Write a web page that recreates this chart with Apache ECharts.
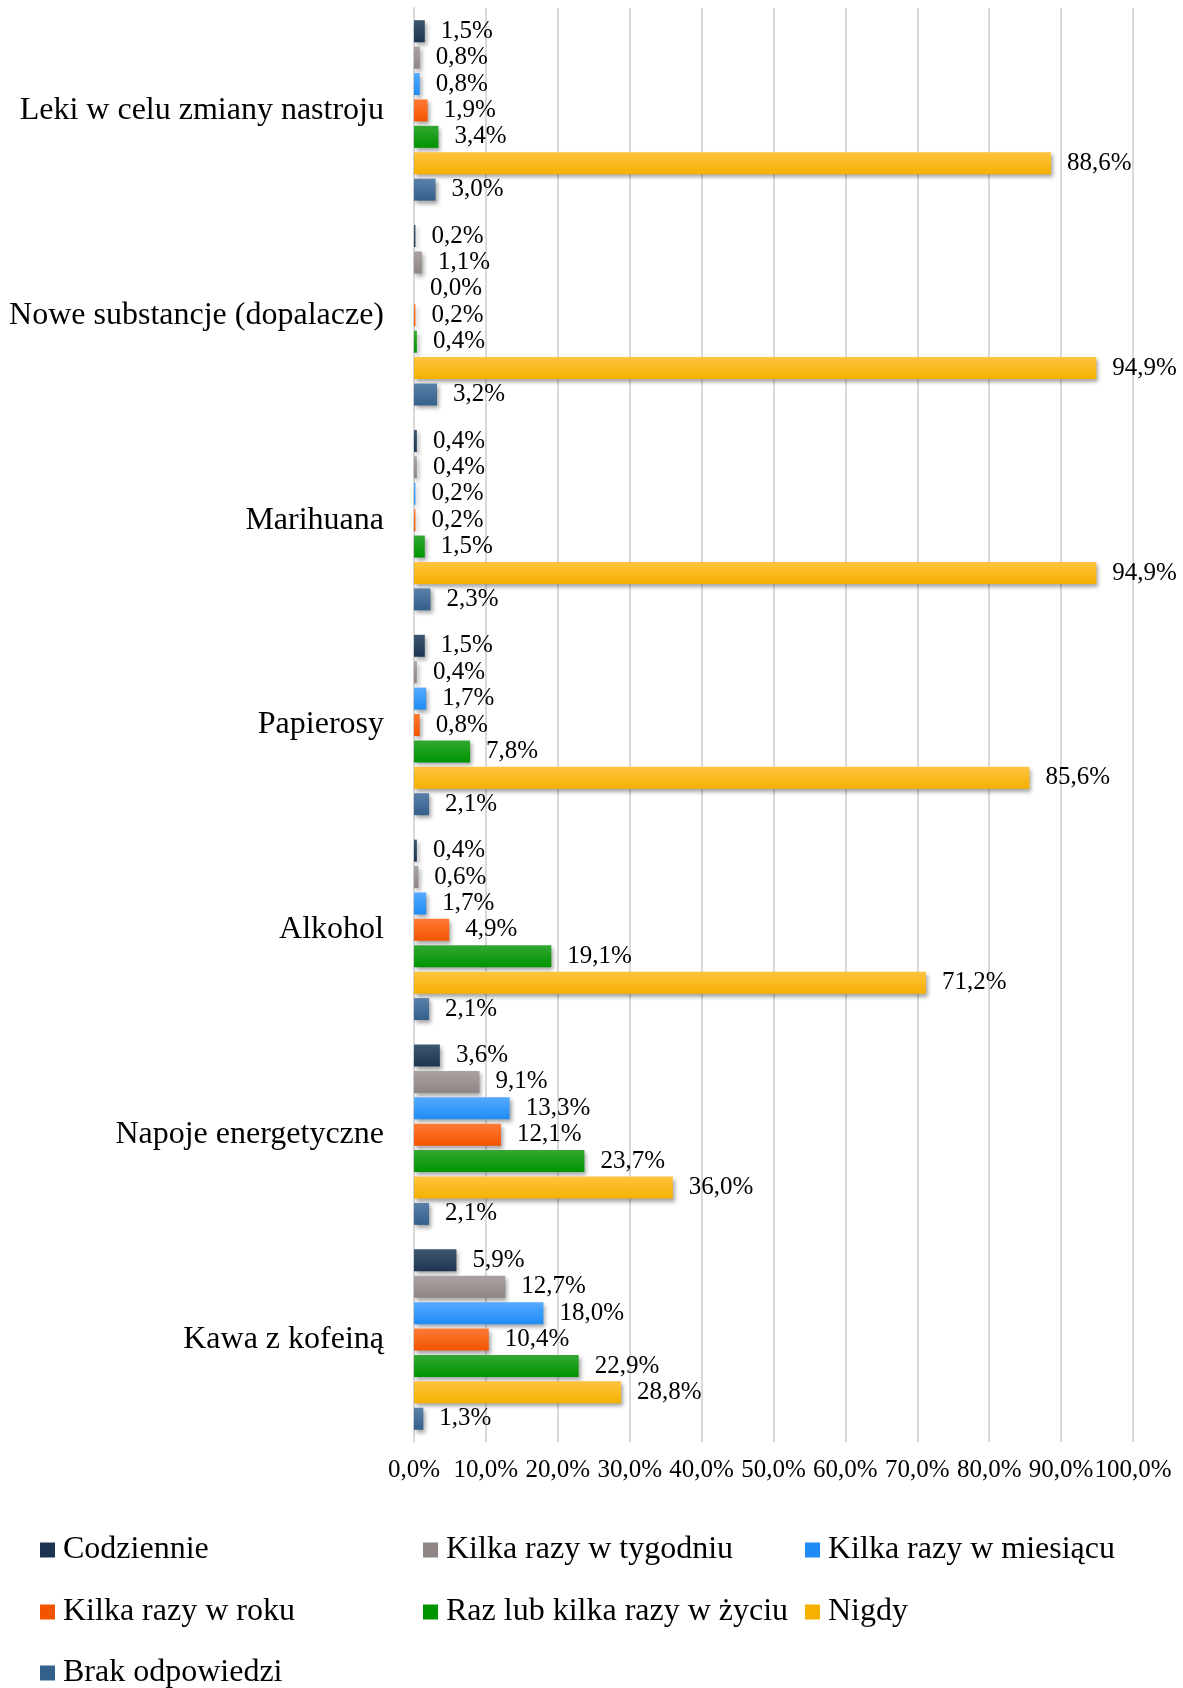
<!DOCTYPE html>
<html><head><meta charset="utf-8">
<script src="https://cdn.jsdelivr.net/npm/echarts@6/dist/echarts.min.js"></script>
<style>html,body{margin:0;padding:0;background:#fff}#c{width:1183px;height:1688px}</style>
</head><body><div id="c"></div>
<script>
const categories = ["Leki w celu zmiany nastroju","Nowe substancje (dopalacze)","Marihuana","Papierosy","Alkohol","Napoje energetyczne","Kawa z kofeiną"];
const seriesNames = ["Codziennie","Kilka razy w tygodniu","Kilka razy w miesiącu","Kilka razy w roku","Raz lub kilka razy w życiu","Nigdy","Brak odpowiedzi"];
const codziennie = [1.5,0.2,0.4,1.5,0.4,3.6,5.9];
const tygodniu = [0.8,1.1,0.4,0.4,0.6,9.1,12.7];
const miesiacu = [0.8,0.0,0.2,1.7,1.7,13.3,18.0];
const roku = [1.9,0.2,0.2,0.8,4.9,12.1,10.4];
const zyciu = [3.4,0.4,1.5,7.8,19.1,23.7,22.9];
const nigdy = [88.6,94.9,94.9,85.6,71.2,36.0,28.8];
const brak = [3.0,3.2,2.3,2.1,2.1,2.1,1.3];
const seriesValues = [codziennie,tygodniu,miesiacu,roku,zyciu,nigdy,brak];
const xTicks = [0,10,20,30,40,50,60,70,80,90,100];

const colorsTop = ["#3e5770","#aaa2a2","#55aaff","#ff7a35","#33a833","#ffc440","#5a80a8"];
const colorsBot = ["#1d3550","#8f8585","#1f8cf5","#f25500","#009400","#f5b000","#34608c"];
const fmt = v => v.toFixed(1).replace('.', ',') + '%';
const FONT = '"Liberation Serif","Times New Roman",serif';

const chart = echarts.init(document.getElementById('c'));
const series = seriesNames.map((n,i)=>({
  name:n, type:'bar', data:seriesValues[i], barWidth:22, barGap:'20%',
  itemStyle:{
    color:new echarts.graphic.LinearGradient(0,0,0,1,[{offset:0,color:colorsTop[i]},{offset:1,color:colorsBot[i]}]),
    shadowColor:'rgba(0,0,0,0.35)', shadowBlur:4, shadowOffsetX:2, shadowOffsetY:3
  },
  label:{show:true, position:'right', distance:16, formatter:p=>fmt(p.value), color:'#000', fontFamily:FONT, fontSize:25},
  emphasis:{disabled:true}
}));
const legendPos = [[40,1534],[423,1534],[805,1534],[40,1596],[423,1596],[805,1596],[40,1657]];
const legends = seriesNames.map((n,i)=>({
  data:[{name:n, itemStyle:{color:colorsBot[i]}}], left:legendPos[i][0], top:legendPos[i][1],
  padding:0, itemWidth:15, itemHeight:15, itemGap:4, icon:'rect',
  textStyle:{fontFamily:FONT, fontSize:32, color:'#000', padding:[0,0,0,3]}, selectedMode:false
}));
chart.setOption({
  animation:false,
  backgroundColor:'#fff',
  legend:legends,
  grid:{left:414, right:50, top:8, bottom:246, containLabel:false},
  xAxis:{type:'value', min:0, max:100, interval:10,
    axisLine:{show:false}, axisTick:{show:false},
    splitLine:{show:true, lineStyle:{color:'#d9d9d9', width:2}},
    axisLabel:{formatter:v=>fmt(v), fontFamily:FONT, fontSize:25, color:'#000', margin:16}},
  yAxis:{type:'category', data:categories, inverse:true,
    axisLine:{show:true, lineStyle:{color:'#d9d9d9', width:2}}, axisTick:{show:false},
    axisLabel:{fontFamily:FONT, fontSize:32, color:'#000', margin:30}},
  series:series
});
</script></body></html>
